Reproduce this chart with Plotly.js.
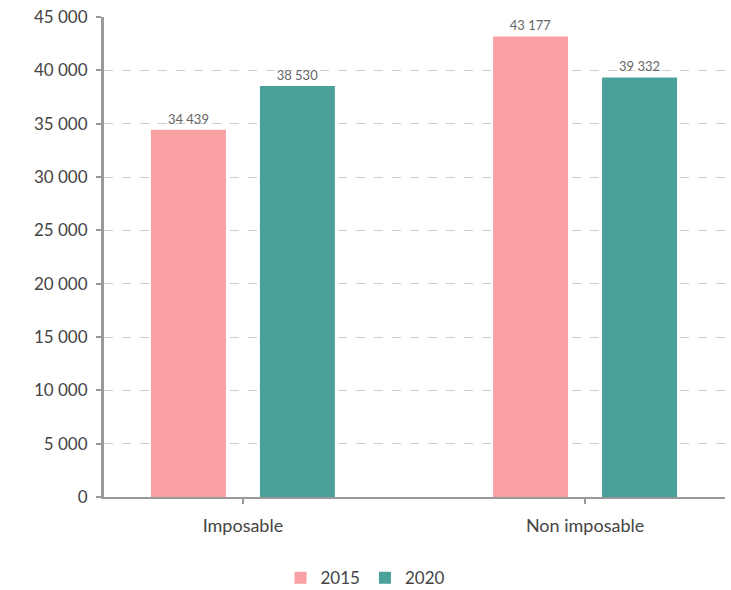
<!DOCTYPE html>
<html>
<head>
<meta charset="utf-8">
<script src="https://cdn.plot.ly/plotly-3.0.1.min.js"></script>
<style>html,body{margin:0;padding:0;background:#fff;}#chart{width:731px;height:590px;}</style>
</head>
<body>
<div id="chart"></div>
<script>
const categories = ["Imposable", "Non imposable"];
const values2015 = [34439, 43177];
const values2020 = [38530, 39332];
const seriesNames = ["2015", "2020"];
const yTicks = [0, 5000, 10000, 15000, 20000, 25000, 30000, 35000, 40000, 45000];

const font = "Lato, 'Open Sans', sans-serif";
const colors = ["#f9a0a5", "#4aa19a"];

function trace(vals, name, color) {
  return {
    type: "bar", x: categories, y: vals, name: name,
    marker: {color: color},
    texttemplate: "%{y:,d}", textposition: "outside", cliponaxis: false,
    textfont: {family: font, size: 13, color: "#666"},
    hoverinfo: "none"
  };
}

const data = [
  trace(values2015, seriesNames[0], colors[0]),
  trace(values2020, seriesNames[1], colors[1])
];

const layout = {
  width: 731, height: 590,
  margin: {l: 104, r: 6, t: 17, b: 93, autoexpand: false},
  separators: ", ",
  paper_bgcolor: "#fff", plot_bgcolor: "#fff",
  font: {family: font, color: "#444"},
  barmode: "group", bargap: 0.363, bargroupgap: 0.312,
  showlegend: true,
  legend: {orientation: "h", x: 0.5, xref: "container", xanchor: "center",
           y: 0.02, yref: "container", yanchor: "middle",
           font: {family: font, size: 17, color: "#444"}, traceorder: "normal"},
  xaxis: {
    type: "category", range: [-0.406, 1.409],
    showline: true, linecolor: "#999", linewidth: 2,
    ticks: "outside", ticklen: 5, tickcolor: "#999", tickwidth: 2,
    ticklabelstandoff: 6,
    tickfont: {family: font, size: 18, color: "#444"},
    showgrid: false, zeroline: false
  },
  yaxis: {
    range: [0, 45000], tickvals: yTicks, tickformat: ",d",
    showline: true, linecolor: "#999", linewidth: 3,
    ticks: "outside", ticklen: 5, tickcolor: "#999", tickwidth: 2,
    ticklabelstandoff: 5,
    tickfont: {family: font, size: 17, color: "#444"},
    showgrid: true, gridcolor: "#ccc", griddash: "dash", gridwidth: 1,
    zeroline: false
  }
};

Plotly.newPlot("chart", data, layout, {displayModeBar: false, staticPlot: true});
</script>
</body>
</html>
